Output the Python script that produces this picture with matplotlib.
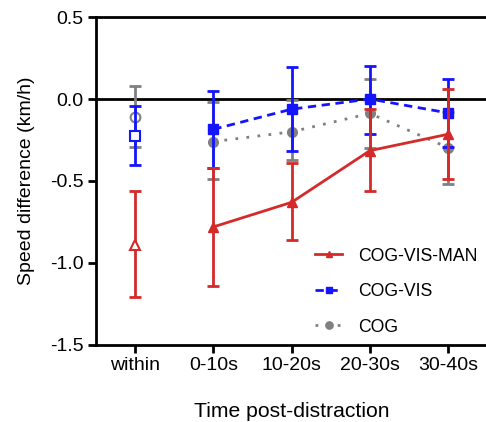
import matplotlib
matplotlib.use('Agg')
from matplotlib import pyplot as plt

plt.rcParams['font.family'] = ['Liberation Sans', 'DejaVu Sans']

labels = ['within', '0-10s', '10-20s', '20-30s', '30-40s']

# mean, upper end and lower end of each error bar, per condition
man_mean = [-0.89, -0.78, -0.63, -0.315, -0.215]
man_top = [-0.56, -0.42, -0.39, -0.06, 0.06]
man_bot = [-1.21, -1.14, -0.86, -0.56, -0.485]

vis_mean = [-0.225, -0.185, -0.062, 0.0, -0.085]
vis_top = [-0.043, 0.05, 0.197, 0.203, 0.12]
vis_bot = [-0.405, -0.42, -0.315, -0.213, -0.29]

cog_mean = [-0.108, -0.26, -0.20, -0.088, -0.297]
cog_top = [0.082, -0.02, -0.005, 0.122, -0.08]
cog_bot = [-0.29, -0.49, -0.37, -0.30, -0.52]

red = '#d42a2a'
blue = '#1414ff'
gray = '#808080'

fig = plt.figure(figsize=(4.86, 4.22), dpi=100)
ax = fig.add_axes([0.1975, 0.1825, 0.805, 0.7772])

x = list(range(len(labels)))


def draw(mean, top, bot, color, marker, ls, ms, name, z):
    err = [[m - b for m, b in zip(mean, bot)], [t - m for m, t in zip(mean, top)]]
    ax.errorbar(x, mean, yerr=err, fmt='none', ecolor=color, elinewidth=2,
                capsize=4.5, capthick=2, zorder=z)
    # "within" is a separate open marker, the rest are joined
    ax.plot(x[0], mean[0], marker=marker, ms=ms, mfc='white', mec=color,
            mew=1.5, ls='none', zorder=z + 0.5)
    ax.plot(x[1:], mean[1:], color=color, ls=ls, lw=2, marker=marker,
            ms=ms, zorder=z + 0.5, label=name)


draw(cog_mean, cog_top, cog_bot, gray, 'o', (0, (1, 3)), 7, 'COG', 2)
draw(vis_mean, vis_top, vis_bot, blue, 's', (0, (3, 2)), 6.5, 'COG-VIS', 3)
draw(man_mean, man_top, man_bot, red, '^', '-', 6.5, 'COG-VIS-MAN', 4)

ax.axhline(0, color='black', lw=2, zorder=1)

ax.set_xlim(-0.5, 4.5)
ax.set_ylim(-1.5, 0.5)
ax.set_yticks([-1.5, -1.0, -0.5, 0.0, 0.5])
ax.set_yticklabels(['-1.5', '-1.0', '-0.5', '0.0', '0.5'])
ax.set_xticks(x)
ax.set_xticklabels(labels)

for s in ['left', 'bottom', 'top']:
    ax.spines[s].set_linewidth(2)
ax.spines['right'].set_visible(False)
ax.tick_params(width=2, length=6, labelsize=14, pad=3)

ax.set_ylabel('Speed difference (km/h)', fontsize=14, labelpad=11)
ax.set_xlabel('Time post-distraction', fontsize=15.2, labelpad=20)

h, l = ax.get_legend_handles_labels()
ax.legend(h[::-1], l[::-1], loc='lower left', bbox_to_anchor=(0.52, -0.02),
          frameon=False, fontsize=12.7, handlelength=1.5, labelspacing=1.05,
          handletextpad=0.9, markerscale=0.75)

fig.savefig('out.png', dpi=100)
